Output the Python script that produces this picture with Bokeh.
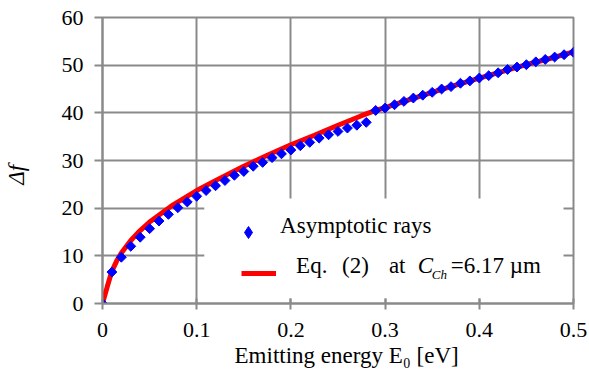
import math
from bokeh.plotting import figure
from bokeh.models import (Range1d, FixedTicker, Label, Legend, LegendItem,
                          BoxAnnotation, ColumnDataSource)
from bokeh.embed import file_html
from bokeh.resources import INLINE

# ---- data ----
ray_energy = [0.00, 0.01, 0.02, 0.03, 0.04, 0.05, 0.06, 0.07, 0.08, 0.09,
              0.10, 0.11, 0.12, 0.13, 0.14, 0.15, 0.16, 0.17, 0.18, 0.19,
              0.20, 0.21, 0.22, 0.23, 0.24, 0.25, 0.26, 0.27, 0.28, 0.29,
              0.30, 0.31, 0.32, 0.33, 0.34, 0.35, 0.36, 0.37, 0.38, 0.39,
              0.40, 0.41, 0.42, 0.43, 0.44, 0.45, 0.46, 0.47, 0.48, 0.49, 0.50]
ray_df = [0.0, 6.6, 9.7, 12.0, 13.9, 15.7, 17.3, 18.7, 20.1, 21.3,
          22.5, 23.7, 24.7, 25.8, 26.9, 27.7, 28.8, 29.6, 30.6, 31.4,
          32.2, 33.1, 33.8, 34.7, 35.4, 36.1, 36.8, 37.4, 38.0, 40.5,
          41.0, 41.7, 42.4, 43.1, 43.7, 44.3, 45.0, 45.5, 46.2, 46.7,
          47.3, 47.8, 48.4, 49.1, 49.6, 50.1, 50.7, 51.2, 51.7, 52.2, 52.7]

eq_energy = [0.0, 0.005, 0.01, 0.015, 0.02, 0.03, 0.04, 0.05, 0.075, 0.1,
             0.125, 0.15, 0.175, 0.2, 0.225, 0.25, 0.275, 0.29, 0.3, 0.325,
             0.35, 0.375, 0.4, 0.425, 0.45, 0.475, 0.5]
eq_df = [0.0, 3.5, 6.8, 8.9, 10.6, 13.2, 15.3, 17.1, 20.7, 23.7,
         26.3, 28.8, 31.1, 33.3, 35.3, 37.4, 39.4, 40.5, 41.1, 42.7,
         44.3, 45.8, 47.3, 48.7, 50.1, 51.4, 52.8]

x_ticks = [0, 0.1, 0.2, 0.3, 0.4, 0.5]
y_ticks = [0, 10, 20, 30, 40, 50, 60]

# ---- layout ----
W, H = 589, 378
FL, FR, FT, FB = 101, 573, 17, 303      # frame edges in pixels
X0, X1, Y0, Y1 = 0.0, 0.5, 0.0, 60.0

def dx(px):
    return X0 + (px - FL) * (X1 - X0) / (FR - FL)

def dy(py):
    return Y0 + (FB - py) * (Y1 - Y0) / (FB - FT)

GRID = "#8a8a8a"
SERIF = "Liberation Serif"
NB = "\u00a0"

p = figure(width=W, height=H, output_backend="svg", toolbar_location=None,
           x_range=Range1d(X0, X1), y_range=Range1d(Y0, Y1),
           min_border_left=FL, min_border_right=W - FR,
           min_border_top=FT, min_border_bottom=H - FB)
p.background_fill_color = "white"
p.border_fill_color = "white"
p.outline_line_color = GRID
p.outline_line_width = 2

for g in (p.xgrid[0], p.ygrid[0]):
    g.grid_line_color = GRID
    g.grid_line_width = 2
p.xgrid[0].ticker = FixedTicker(ticks=x_ticks)
p.ygrid[0].ticker = FixedTicker(ticks=y_ticks)

xa, ya = p.xaxis[0], p.yaxis[0]
xa.ticker = FixedTicker(ticks=x_ticks)
ya.ticker = FixedTicker(ticks=y_ticks)
xa.major_label_overrides = {0: "0", 0.1: "0.1", 0.2: "0.2", 0.3: "0.3", 0.4: "0.4", 0.5: "0.5"}
for ax in (xa, ya):
    ax.axis_line_color = GRID
    ax.axis_line_width = 2
    ax.major_tick_line_color = GRID
    ax.major_tick_line_width = 2
    ax.minor_tick_line_color = None
    ax.major_label_text_font = SERIF
    ax.major_label_text_font_size = "22px"
    ax.major_label_text_color = "black"
    ax.axis_label_text_font = SERIF
    ax.axis_label_text_font_size = "23px"
    ax.axis_label_text_color = "black"
xa.major_tick_in = 5
xa.major_tick_out = 6
xa.major_label_standoff = 13
ya.major_tick_in = 0
ya.major_tick_out = 8
ya.major_label_standoff = 11

# axis titles (non-breaking spaces nudge them to where the reference centres them)
xa.axis_label = NB * 3 + "Emitting energy E\u2080 [eV]"
xa.axis_label_text_font_style = "normal"
xa.axis_label_standoff = 3
ya.axis_label = "\u0394f" + NB * 5
ya.axis_label_text_font_style = "italic"
ya.axis_label_standoff = 30

# legend backdrop (covers the grid)
box = BoxAnnotation(left=dx(203), right=dx(563), top=dy(198), bottom=dy(298),
                    fill_color="white", fill_alpha=1.0, line_color=None,
                    level="underlay")
p.add_layout(box)

eq_src = ColumnDataSource(dict(x=eq_energy, y=eq_df))
ray_src = ColumnDataSource(dict(x=ray_energy, y=ray_df))
r_eq = p.line("x", "y", source=eq_src, line_color="#ff0000", line_width=5)
r_ray = p.scatter("x", "y", source=ray_src, marker="square", angle=math.pi / 4,
                  size=7, fill_color="#0000ff", line_color="#0000ff")
# legend key for the rays (diamond shape; its single point is NaN, so not plotted)
r_key = p.scatter(x=[float("nan")], y=[float("nan")], marker="diamond", size=7,
                  fill_color="#0000ff", line_color="#0000ff")

def key_legend(renderer, gw, gh, center_px, center_py):
    lg = Legend(items=[LegendItem(label=" ", renderers=[renderer])],
                location=(center_px - gw / 2 - FL, FB - (center_py + gh / 2)),
                padding=0, margin=0, spacing=0, label_standoff=0,
                label_width=0, label_height=0, label_text_font_size="1px",
                glyph_width=gw, glyph_height=gh,
                border_line_color=None, background_fill_alpha=0)
    p.add_layout(lg)

key_legend(r_key, 30, 30, 247, 232)
key_legend(r_eq, 35, 14, 257.5, 273)

def txt(text, px, py, size, style="normal", **kw):
    p.add_layout(Label(x=dx(px), y=dy(py), text=text, text_font=SERIF,
                       text_font_size=size, text_font_style=style,
                       text_color="black", **kw))

# legend texts
txt("Asymptotic rays", 279, 237, "23px")
txt("Eq.", 295, 277, "23px")
txt("(2)", 341, 277, "23px")
txt("at", 388, 277, "23px")
txt("C", 417, 277, "23px", "italic")
txt("Ch", 431, 281, "13px", "italic")
txt("=", 450, 277, "23px")
txt("6.17 \u00b5m", 463, 277, "23px")

open("out.html", "w").write(file_html(p, INLINE))
